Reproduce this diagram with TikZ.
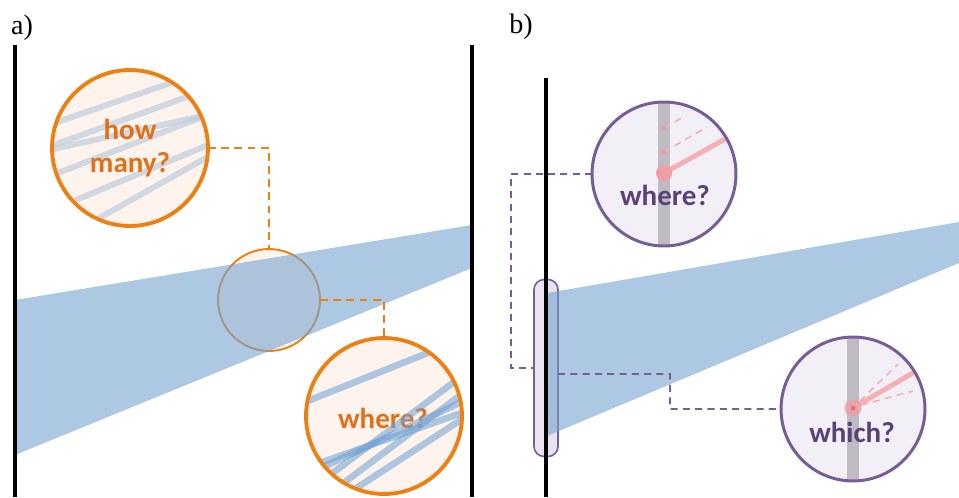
\documentclass[tikz,border=0pt]{standalone}
\usepackage{fontspec}
\setmainfont{Liberation Serif}
\newfontfamily\qfont{Carlito}
\usetikzlibrary{positioning,calc}
\definecolor{BeamBlue}{RGB}{118,163,207}
\definecolor{RingOrange}{RGB}{236,128,18}
\definecolor{TextOrange}{RGB}{226,112,24}
\definecolor{PeachFill}{RGB}{254,244,237}
\definecolor{RingPurple}{RGB}{118,94,148}
\definecolor{TextPurple}{RGB}{90,66,118}
\definecolor{LilacFill}{RGB}{242,240,246}
\definecolor{BoxFill}{RGB}{234,228,242}
\definecolor{BarGray}{RGB}{190,187,195}
\definecolor{RayPink}{RGB}{244,176,180}
\definecolor{DotPink}{RGB}{238,158,164}
\definecolor{DotRed}{RGB}{236,112,122}
\definecolor{FiberGray}{RGB}{190,205,222}
\definecolor{FiberBlue}{RGB}{110,160,212}

\begin{document}
\begin{tikzpicture}[x=0.02cm,y=-0.02cm,
wall/.style={line width=2.3pt,black},
beam/.style={fill=BeamBlue,fill opacity=0.6,draw=none},
qfont/.style={font=\qfont\bfseries\fontsize{16.5}{19}\selectfont},
oring/.style={circle,draw=RingOrange,line width=2.2pt,inner sep=0pt,outer sep=0pt,minimum size=3.12cm,qfont,text=TextOrange,align=center},
pring/.style={circle,draw=RingPurple,line width=1.7pt,inner sep=0pt,outer sep=0pt,minimum size=2.88cm},
qtxt/.style={qfont,text=TextPurple,inner sep=0pt},
olink/.style={RingOrange,line width=1.1pt,dash pattern=on 4.5pt off 3pt},
plink/.style={RingPurple,line width=0.9pt,dash pattern=on 4pt off 3pt},
fiber/.style={FiberGray,line width=3.4pt,opacity=0.7},
fiberb/.style={FiberBlue,line width=3.8pt,opacity=0.55},
ray/.style={RayPink,line width=2.8pt},
dray/.style={RayPink,line width=0.9pt,dash pattern=on 4pt off 3pt},
bar/.style={BarGray,line width=6.8pt},
tag/.style={font=\fontsize{16}{18}\selectfont,inner sep=0pt}
]
\useasboundingbox (0,0) rectangle (959,497);

% panel labels
\node[tag] (la) at (22,28) {a)};
\node[tag] (lb) at (521,27) {b)};

% a) counting from a patch of the beam
\node[circle,fill=PeachFill,draw=RingOrange,line width=1.1pt,minimum size=2.04cm,inner sep=0pt,outer sep=0pt] (spot) at (269,300) {};
\fill[beam] (15,300) -- (472,225) -- (472,268) -- (15,455) -- cycle;
\draw[wall] (15,45) -- (15,497);
\draw[wall] (472,45) -- (472,497);

\fill[PeachFill] (130,148) circle[radius=1.56cm];
\begin{scope}
\clip (130,148) circle[radius=1.56cm];
\draw[fiber] (40,128) -- (220,66);
\draw[fiber] (40,150) -- (220,85);
\draw[fiber] (40,152) -- (220,112);
\draw[fiber] (40,180) -- (220,110);
\draw[fiber] (40,215) -- (220,140);
\draw[fiber] (60,240) -- (220,150);
\end{scope}
\node[oring] (many) at (130,148) {how\\many?};

\fill[PeachFill] (384,416) circle[radius=1.56cm];
\node[qfont,text=TextOrange,inner sep=0pt] (wtxt) at (383,418) {where?};
\begin{scope}
\clip (384,416) circle[radius=1.56cm];
\draw[fiberb] (290,408) -- (450,344);
\draw[fiberb] (300,470) -- (470,410);
\draw[fiberb] (310,490) -- (470,370);
\draw[fiberb] (325,497) -- (470,388);
\draw[fiberb] (335,502) -- (470,414);
\draw[fiberb] (300,478) -- (470,398);
\end{scope}
\node[oring] (where) at (384,416) {};

\draw[olink] (many.east) -| (spot.north);
\draw[olink] (spot.east) -| (where.north);

% b) a strip of the detector
\node[draw=RingPurple,fill=BoxFill,line width=0.9pt,rounded corners=0.2cm,minimum width=0.48cm,minimum height=3.54cm,inner sep=0pt,outer sep=0pt] (strip) at (546,368) {};
\fill[beam] (547,293) -- (959,222) -- (959,263) -- (547,436) -- cycle;
\draw[wall] (546,78) -- (546,497);

\fill[LilacFill] (664,174) circle[radius=1.44cm];
\begin{scope}
\clip (664,174) circle[radius=1.44cm];
\draw[bar] (664,95) -- (664,255);
\draw[ray] (664,173) -- (745,128);
\draw[dray] (664,152) -- (707,127);
\draw[dray] (664,128) -- (685,116);
\end{scope}
\fill[DotPink] (664,173) circle[radius=0.16cm];
\fill[DotPink] (664,152) circle[radius=0.05cm];
\fill[DotPink] (664,128) circle[radius=0.05cm];
\node[qtxt] (wrtxt) at (665,195) {where?};
\node[pring] (wr) at (664,174) {};

\fill[LilacFill] (853,409) circle[radius=1.44cm];
\begin{scope}
\clip (853,409) circle[radius=1.44cm];
\draw[bar] (853,330) -- (853,490);
\draw[ray] (853,408) -- (935,360);
\draw[dray] (860,401) -- (898,364);
\draw[dray] (861,405) -- (913,391);
\end{scope}
\fill[DotPink,opacity=0.8] (853,408) circle[radius=0.17cm];
\fill[DotRed] (853,408) circle[radius=0.05cm];
\node[qtxt] (wctxt) at (852,432) {which?};
\node[pring] (wc) at (853,409) {};

\coordinate (k1) at (511,174);
\draw[plink] (wr.west) -- (k1) |- (strip.west);
\coordinate (k2) at (670,374);
\draw[plink] ([yshift=-0.12cm]strip.east) -- (k2) |- (wc.west);
\end{tikzpicture}
\end{document}
